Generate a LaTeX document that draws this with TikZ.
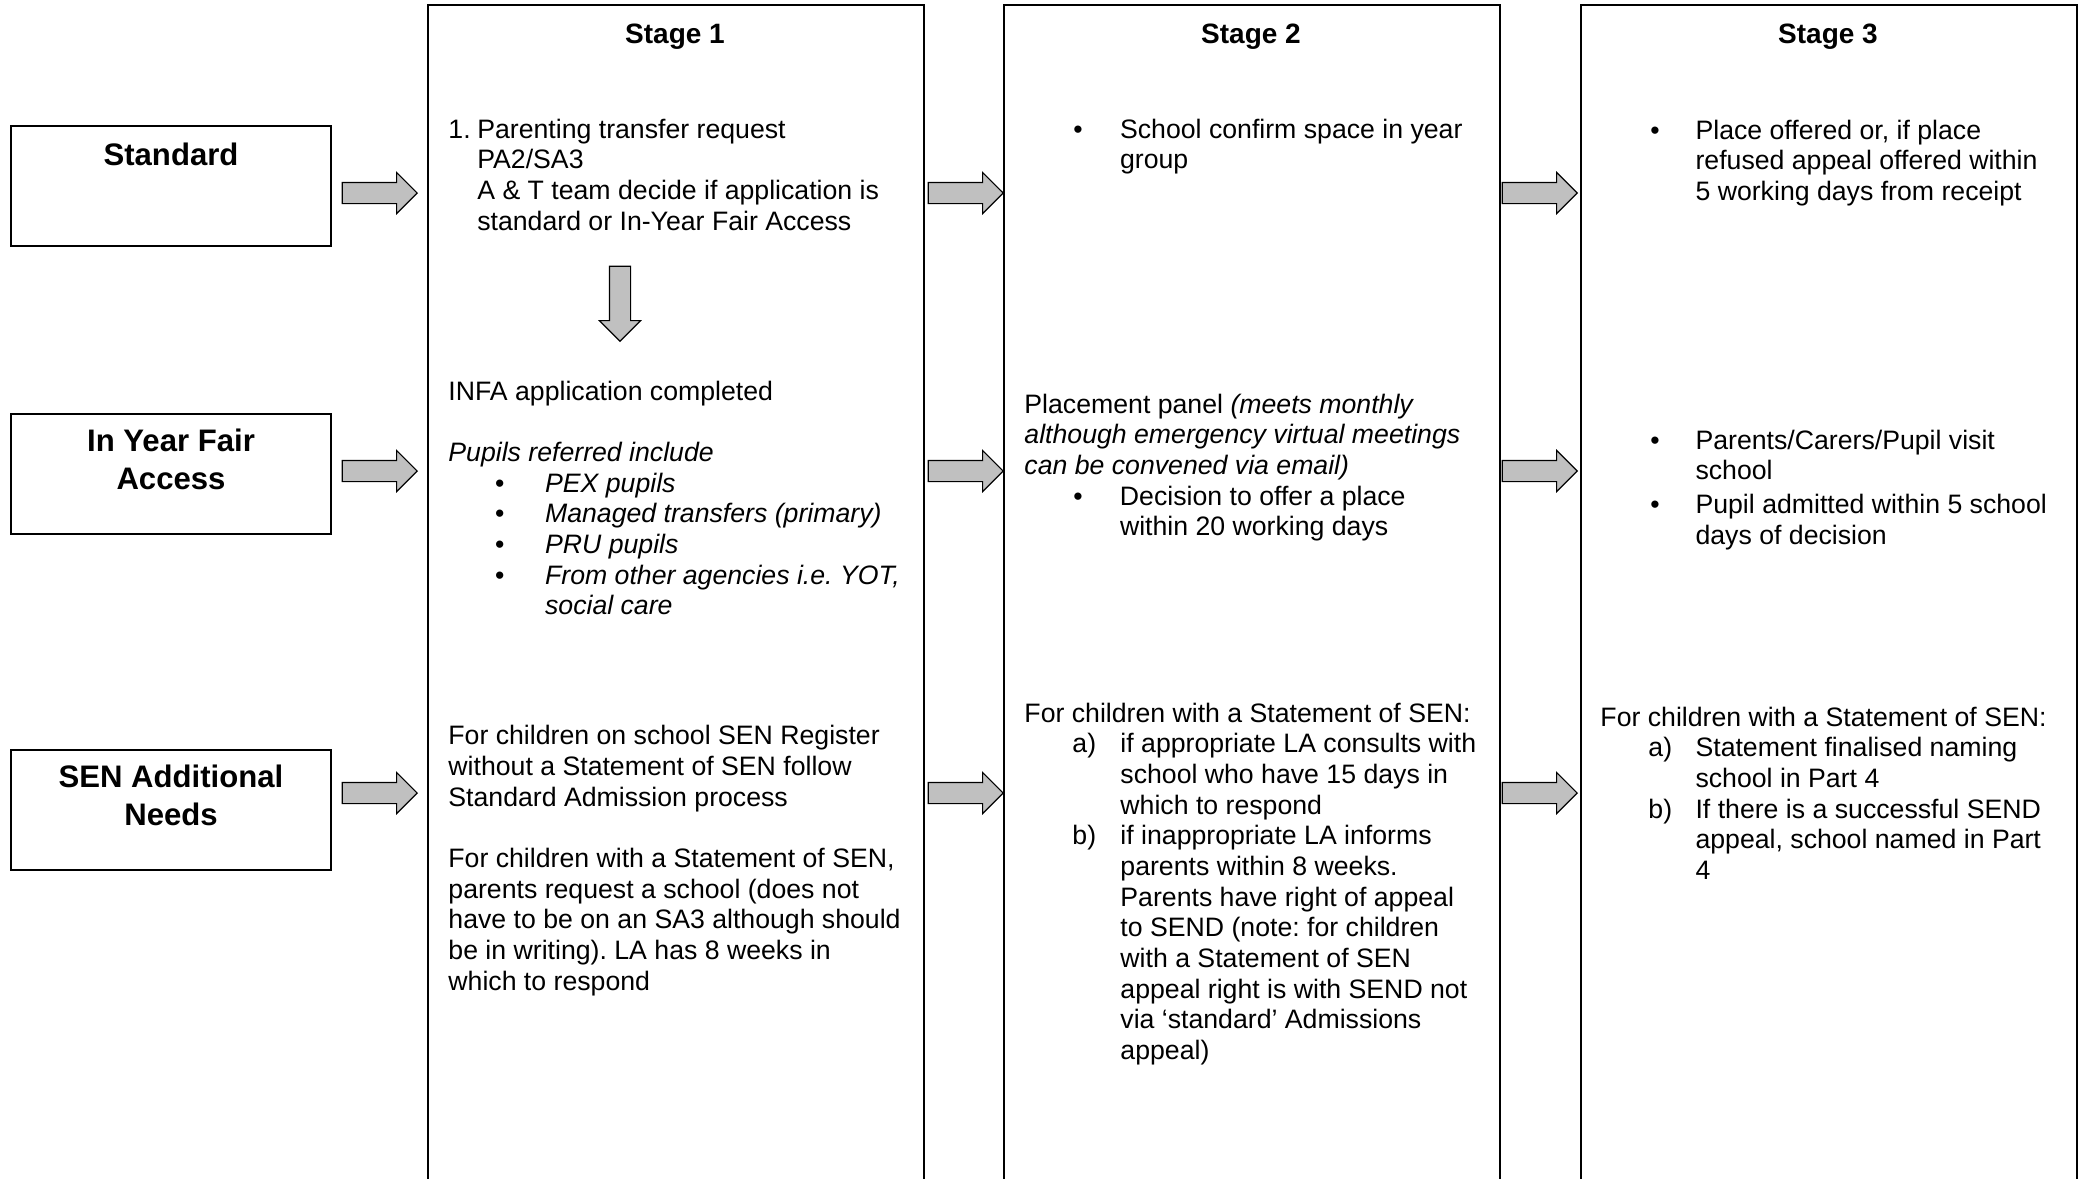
\documentclass[tikz,border=0pt]{standalone}
\usepackage{fontspec}
\setmainfont{Liberation Sans}
\usetikzlibrary{positioning,shapes.arrows}
\definecolor{ArrFill}{HTML}{C0C0C0}
\frenchspacing
% bullet / label item with indent and hang
\newcommand{\bitem}[2]{\hspace*{#1}\makebox[#2][l]{\textbullet}}
\newcommand{\litem}[3]{\hspace*{#1}\makebox[#2][l]{#3}}

\begin{document}
\begin{tikzpicture}[x=0.45pt,y=-0.45pt,
  catbox/.style={draw, line width=0.9pt, rectangle, anchor=north west,
    minimum width=144pt, minimum height=54pt, inner sep=0pt},
  catlabel/.style={anchor=north, align=center, inner sep=0pt,
    font=\fontsize{14}{17.3}\selectfont\bfseries, execute at begin node=\strut},
  stagecol/.style={draw, line width=0.75pt, rectangle, anchor=north west,
    minimum width=223.2pt, minimum height=600pt, inner sep=0pt},
  stagetitle/.style={anchor=base, inner sep=0pt, font=\fontsize{12.6}{14.5}\selectfont\bfseries},
  body/.style={anchor=north west, align=left, inner sep=0pt,
    font=\fontsize{12}{13.8}\selectfont, execute at begin node=\strut},
  blockarrow/.style={single arrow, draw, fill=ArrFill, line width=0.5pt,
    inner sep=0pt, text height=9pt, text depth=0pt, text width=0pt,
    single arrow head extend=4.5pt, single arrow tip angle=90,
    minimum height=33.75pt, anchor=tip}]
  \useasboundingbox (0,0) rectangle (2085,1178);

  % categories
  \node[catbox] (std) at (10,125) {};
  \node[catbox] (iyfa) at (10,413) {};
  \node[catbox] (sen) at (10,749) {};
  \node[catlabel, below=5.9pt of std.north] (stdlab) {Standard};
  \node[catlabel, below=6.8pt of iyfa.north] (iyfalab) {In Year Fair\\Access};
  \node[catlabel, below=6.8pt of sen.north] (senlab) {SEN Additional\\Needs};

  % stage columns (open at the foot of the page)
  \node[stagecol] (st1) at (427,4) {};
  \node[stagecol] (st2) at (1003,4) {};
  \node[stagecol] (st3) at (1580,4) {};
  \node[stagetitle] (st1t) at (675,43) {Stage 1};
  \node[stagetitle] (st2t) at (1251,43) {Stage 2};
  \node[stagetitle] (st3t) at (1828,43) {Stage 3};

  % arrows between columns
  \foreach \r/\y in {a/193,b/471,c/793}{
    \node[blockarrow] (arr1\r) at (418,\y) {};
    \node[blockarrow] (arr2\r) at (1004,\y) {};
    \node[blockarrow] (arr3\r) at (1578,\y) {};
  }
  \node[blockarrow, rotate=-90] (arrdown) at (620,342) {};

  % stage 1
  \node[body] (s1std) at (448,118.5) {\makebox[13pt][l]{1.}Parenting transfer request\\
    \hspace*{13pt}PA2/SA3\\
    \hspace*{13pt}A \& T team decide if application is\\
    \hspace*{13pt}standard or In-Year Fair Access};
  \node[body] (s1iyfa) at (448,380.5) {INFA application completed\\[13.8pt]
    \textit{Pupils referred include}\\
    \bitem{21pt}{22.5pt}\textit{PEX pupils}\\
    \bitem{21pt}{22.5pt}\textit{Managed transfers (primary)}\\
    \bitem{21pt}{22.5pt}\textit{PRU pupils}\\
    \bitem{21pt}{22.5pt}\textit{From other agencies i.e. YOT,}\\
    \hspace*{43.5pt}\textit{social care}};
  \node[body] (s1sen) at (448,725) {For children on school SEN Register\\
    without a Statement of SEN follow\\
    Standard Admission process\\[13.8pt]
    For children with a Statement of SEN,\\
    parents request a school (does not\\
    have to be on an SA3 although should\\
    be in writing). LA has 8 weeks in\\
    which to respond};

  % stage 2
  \node[body] (s2std) at (1073,118.5) {\makebox[21pt][l]{\textbullet}School confirm space in year\\
    \hspace*{21pt}group};
  \node[body] (s2iyfa) at (1024,393.5) {Placement panel \textit{(meets monthly}\\
    \textit{although emergency virtual meetings}\\
    \textit{can be convened via email)}\\
    \bitem{22pt}{21pt}Decision to offer a place\\
    \hspace*{43pt}within 20 working days};
  \node[body] (s2sen) at (1024,702.5) {For children with a Statement of SEN:\\
    \litem{21.6pt}{21.6pt}{a)}if appropriate LA consults with\\
    \hspace*{43.2pt}school who have 15 days in\\
    \hspace*{43.2pt}which to respond\\
    \litem{21.6pt}{21.6pt}{b)}if inappropriate LA informs\\
    \hspace*{43.2pt}parents within 8 weeks.\\
    \hspace*{43.2pt}Parents have right of appeal\\
    \hspace*{43.2pt}to SEND (note: for children\\
    \hspace*{43.2pt}with a Statement of SEN\\
    \hspace*{43.2pt}appeal right is with SEND not\\
    \hspace*{43.2pt}via ‘standard’ Admissions\\
    \hspace*{43.2pt}appeal)};

  % stage 3
  \node[body] (s3std) at (1650,119.5) {\makebox[20.3pt][l]{\textbullet}Place offered or, if place\\
    \hspace*{20.3pt}refused appeal offered within\\
    \hspace*{20.3pt}5 working days from receipt};
  \node[body] (s3iyfa) at (1650,429.5) {\makebox[20.3pt][l]{\textbullet}Parents/Carers/Pupil visit\\
    \hspace*{20.3pt}school\\[1.5pt]
    \makebox[20.3pt][l]{\textbullet}Pupil admitted within 5 school\\
    \hspace*{20.3pt}days of decision};
  \node[body] (s3sen) at (1600,706.5) {For children with a Statement of SEN:\\
    \litem{21.6pt}{21.2pt}{a)}Statement finalised naming\\
    \hspace*{42.8pt}school in Part 4\\
    \litem{21.6pt}{21.2pt}{b)}If there is a successful SEND\\
    \hspace*{42.8pt}appeal, school named in Part\\
    \hspace*{42.8pt}4};
\end{tikzpicture}
\end{document}
